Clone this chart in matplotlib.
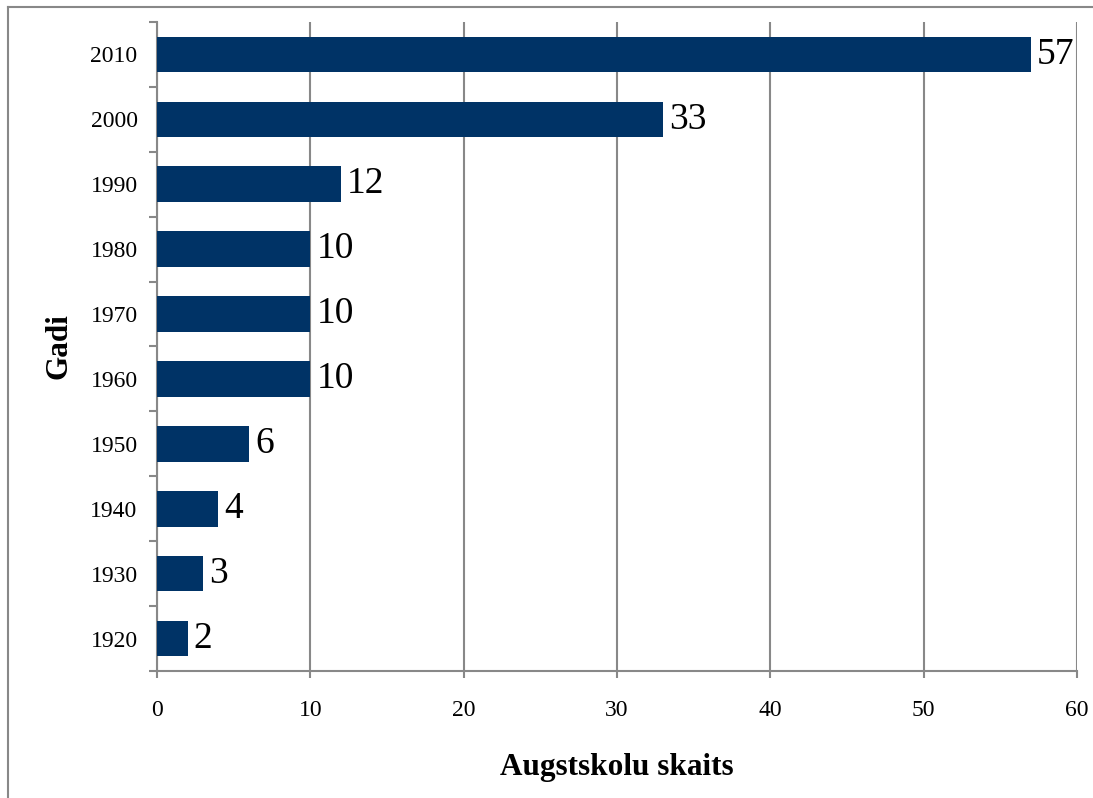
import matplotlib.pyplot as plt
from matplotlib.lines import Line2D

years = ['1920', '1930', '1940', '1950', '1960', '1970', '1980', '1990', '2000', '2010']
counts = [2, 3, 4, 6, 10, 10, 10, 12, 33, 57]

plt.rcParams['font.family'] = ['Liberation Serif', 'DejaVu Serif']

fig = plt.figure(figsize=(10.93, 7.98), dpi=100)
ax = fig.add_axes([157/1093, 1 - 671/798, (1077 - 157)/1093, (671 - 22)/798])

pos = list(range(len(years)))
ax.barh(pos, counts, height=0.55, color='#003366', zorder=3)
for p, c in zip(pos, counts):
    ax.text(c + 0.4, p, str(c), va='center', ha='left', fontsize=27)

ax.set_xlim(0, 60)
ax.set_ylim(-0.5, len(years) - 0.5)
ax.set_xticks(range(0, 61, 10))
ax.set_yticks(pos)
ax.set_yticklabels(years)
ax.set_yticks([p - 0.5 for p in pos] + [len(years) - 0.5], minor=True)
ax.tick_params(axis='y', which='major', length=0, pad=14, labelsize=17)
ax.tick_params(axis='y', which='minor', length=6, color='#888888', width=1.5)
ax.tick_params(axis='x', length=5, color='#888888', width=1.5, labelsize=17, pad=16)

ax.grid(axis='x', color='#888888', linewidth=1.5, zorder=0)
for s in ['top', 'right']:
    ax.spines[s].set_visible(False)
for s in ['left', 'bottom']:
    ax.spines[s].set_color('#888888')
    ax.spines[s].set_linewidth(1.5)

ax.set_xlabel('Augstskolu skaits', fontsize=22.5, fontweight='bold', labelpad=23)
ax.set_ylabel('Gadi', fontsize=22.5, fontweight='bold', labelpad=12)

# outer chart border (only left and top visible in the frame)
fig.add_artist(Line2D([8/1093, 8/1093], [0, 1 - 7/798], transform=fig.transFigure, color='#888888', linewidth=1.5))
fig.add_artist(Line2D([8/1093, 1], [1 - 7/798, 1 - 7/798], transform=fig.transFigure, color='#888888', linewidth=1.5))

fig.savefig('out.png', dpi=100)
